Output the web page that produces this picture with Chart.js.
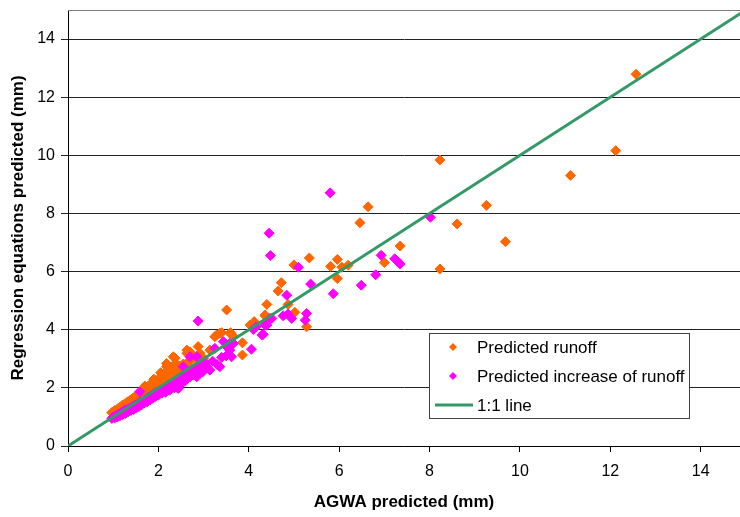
<!DOCTYPE html>
<html><head><meta charset="utf-8">
<script src="https://cdn.jsdelivr.net/npm/chart.js@4.4.0/dist/chart.umd.min.js"></script>
<style>html,body{margin:0;padding:0;background:#fff;overflow:hidden}#wrap{width:740px;height:517px;position:relative}</style>
</head><body><div id="wrap"><canvas id="c" width="740" height="517"></canvas></div>
<script>
const seriesNames = ['Predicted runoff', 'Predicted increase of runoff', '1:1 line'];
const xAxisTitle = 'AGWA predicted (mm)';
const yAxisTitle = 'Regression equations predicted (mm)';
const xTicks = [0, 2, 4, 6, 8, 10, 12, 14];
const yTicks = [0, 2, 4, 6, 8, 10, 12, 14];
const xMax = 14.87;
const yMax = 15;

const runoffPoints = [
  [12.57,12.79],[12.12,10.16],[11.12,9.31],[8.23,9.84],[9.26,8.28],[8.61,7.64],[9.68,7.03],[8.23,6.09],
  [7.35,6.88],[7.00,6.31],[6.64,8.23],[6.46,7.68],[5.34,6.47],[5.00,6.23],[5.96,6.42],[5.81,6.18],
  [6.06,6.15],[6.20,6.22],[5.96,5.76],[4.72,5.62],[4.65,5.33],[4.87,4.87],[4.40,4.87],[4.36,4.48],
  [5.02,4.60],[5.28,4.10],[4.03,4.16],[4.12,4.28],[4.14,4.22],[3.86,3.55],[3.86,3.13],[3.51,4.68],
  [3.58,3.88],[3.36,3.88],[3.25,3.76],[3.29,3.82],[3.40,3.90],[3.60,3.90],[3.66,3.78],[2.92,3.19],
  [3.14,3.30],[2.70,3.24],[2.63,3.30],[2.88,3.42],[2.37,3.02],[2.33,2.56],[2.18,2.73],[4.36,4.51],
  [2.18,2.84],[2.33,3.07],[2.63,3.19],[2.40,2.44],[2.40,2.02],[3.00,3.02],
  [0.97,1.15],[1.00,1.12],[1.03,1.22],[1.06,1.18],[1.10,1.28],[1.12,1.22],[1.15,1.33],[1.18,1.30],
  [1.20,1.40],[1.23,1.36],[1.26,1.45],[1.28,1.40],[1.32,1.52],[1.35,1.48],[1.38,1.58],[1.40,1.52],
  [1.43,1.64],[1.46,1.60],[1.50,1.72],[1.52,1.66],[1.55,1.80],[1.58,1.74],[1.60,1.86],[1.63,1.80],
  [1.66,1.92],[1.68,1.85],[1.71,1.98],[1.74,1.92],[1.77,2.05],[1.80,1.98],[1.82,2.12],[1.85,2.05],
  [1.88,2.18],[1.91,2.10],[1.94,2.25],[1.97,2.18],[2.00,2.30],[2.03,2.22],[2.06,2.38],[2.09,2.30],
  [2.12,2.45],[2.15,2.36],[2.18,2.55],[2.21,2.42],[2.25,2.60],[2.28,2.50],[2.32,2.70],[2.35,2.58],
  [2.38,2.85],[2.42,2.62],[2.46,2.75],[2.50,2.68],[2.55,2.82],[2.60,2.75],[2.66,2.90],[2.72,2.95],
  [2.80,3.05],[1.70,2.06],[1.90,2.30],[2.05,2.52]
];

const increasePoints = [
  [5.80,8.71],[4.45,7.32],[4.48,6.55],[5.10,6.15],[8.02,7.87],[6.93,6.56],[7.23,6.44],[7.29,6.36],
  [7.35,6.26],[6.81,5.89],[6.49,5.53],[5.87,5.24],[5.37,5.57],[4.84,5.19],[4.76,4.48],[4.87,4.54],
  [4.95,4.39],[5.28,4.56],[5.25,4.33],[4.51,4.39],[4.10,4.01],[4.16,4.10],[4.32,3.84],[4.40,4.16],
  [4.06,3.33],[4.47,4.39],[4.36,4.16],[4.29,3.82],[2.88,4.30],
  [0.97,0.95],[1.00,1.00],[1.03,0.96],[1.06,1.05],[1.09,1.00],[1.12,1.10],[1.15,1.04],[1.18,1.15],
  [1.21,1.08],[1.24,1.20],[1.27,1.12],[1.30,1.25],[1.33,1.17],[1.36,1.30],[1.39,1.22],[1.42,1.35],
  [1.45,1.26],[1.48,1.40],[1.51,1.31],[1.54,1.45],[1.57,1.36],[1.60,1.52],[1.63,1.42],[1.66,1.56],
  [1.69,1.48],[1.72,1.62],[1.75,1.52],[1.78,1.68],[1.81,1.58],[1.84,1.74],[1.87,1.64],[1.90,1.80],
  [1.93,1.70],[1.96,1.86],[2.00,1.75],[2.04,1.92],[2.08,1.82],[2.12,1.98],[2.16,1.85],[2.20,2.05],
  [2.25,1.92],[2.30,2.12],[2.35,2.00],[2.40,2.20],[2.44,1.98],[2.48,2.28],[2.52,2.15],[2.56,2.40],
  [2.60,2.25],[2.65,2.52],[2.70,2.38],[2.74,2.62],[2.77,2.44],[2.82,2.70],[2.85,2.38],[2.90,2.78],
  [2.92,2.61],[2.98,2.55],[3.04,2.85],[3.07,2.73],[3.14,2.61],[3.20,2.92],[3.25,3.36],[3.30,2.80],
  [3.36,2.73],[3.40,3.05],[3.44,3.59],[3.50,3.10],[3.51,3.42],[3.58,3.30],[3.58,3.53],[3.62,3.07],
  [3.66,3.53],[2.55,2.73],[2.70,3.07],[2.85,3.07],[1.59,1.87],[1.26,1.24],[2.48,2.21]
];

const linePoints = [[0,0],[15,15]];

const colors = ['#FF6600', '#FF00FF', '#339966'];
const FONT = "'Liberation Sans', Arial, sans-serif";

const toXY = a => a.map(p => ({x: p[0], y: p[1]}));

const legendPlugin = {
  id: 'insideLegend',
  afterDraw(chart) {
    const ctx = chart.ctx;
    const ca = chart.chartArea;
    ctx.save();
    ctx.strokeStyle = '#808080';
    ctx.lineWidth = 1;
    ctx.beginPath();
    ctx.moveTo(ca.left, Math.round(ca.top) + 0.5);
    ctx.lineTo(ca.right, Math.round(ca.top) + 0.5);
    ctx.stroke();
    const bx = 429.5, by = 333.5, bw = 260, bh = 85;
    ctx.fillStyle = '#fff';
    ctx.fillRect(bx, by, bw, bh);
    ctx.strokeStyle = '#404040';
    ctx.strokeRect(bx, by, bw, bh);
    const rows = [347, 376, 405];
    ctx.font = '17px ' + FONT;
    ctx.textBaseline = 'middle';
    ctx.textAlign = 'left';
    for (let i = 0; i < 3; i++) {
      const y = rows[i];
      if (i < 2) {
        ctx.fillStyle = colors[i];
        ctx.beginPath();
        const r = 4;
        ctx.moveTo(453, y - r); ctx.lineTo(453 + r, y); ctx.lineTo(453, y + r); ctx.lineTo(453 - r, y);
        ctx.closePath(); ctx.fill();
      } else {
        ctx.strokeStyle = colors[2];
        ctx.lineWidth = 3;
        ctx.beginPath(); ctx.moveTo(435, y); ctx.lineTo(473, y); ctx.stroke();
      }
      ctx.fillStyle = '#000';
      ctx.fillText(seriesNames[i], 477, y + 1);
    }
    ctx.restore();
  }
};

new Chart(document.getElementById('c'), {
  type: 'scatter',
  data: {
    datasets: [
      {label: seriesNames[2], type: 'line', data: toXY(linePoints), borderColor: colors[2], borderWidth: 3,
       pointRadius: 0, fill: false, order: 0},
      {label: seriesNames[1], data: toXY(increasePoints), pointStyle: 'rectRot', pointRadius: 5,
       backgroundColor: colors[1], borderColor: colors[1], borderWidth: 1, order: 1},
      {label: seriesNames[0], data: toXY(runoffPoints), pointStyle: 'rectRot', pointRadius: 5,
       backgroundColor: colors[0], borderColor: colors[0], borderWidth: 1, order: 2}
    ]
  },
  options: {
    responsive: false,
    animation: false,
    devicePixelRatio: 1,
    layout: {autoPadding: false, padding: {top: 10, right: 0, left: 0, bottom: 0}},
    plugins: {legend: {display: false}, tooltip: {enabled: false}},
    scales: {
      x: {
        type: 'linear', min: 0, max: xMax,
        afterBuildTicks: s => { s.ticks = xTicks.map(v => ({value: v})); },
        afterFit: s => { s.height = 71; s.paddingLeft = 0; s.paddingRight = 0; },
        grid: {drawOnChartArea: false, drawTicks: true, tickLength: 6, color: '#000'},
        border: {display: true, color: '#000', width: 1},
        ticks: {font: {family: FONT, size: 16}, color: '#000', padding: 10, maxRotation: 0, autoSkip: false},
        title: {display: true, text: xAxisTitle, color: '#000', font: {family: FONT, size: 17, weight: 'bold'},
                padding: {top: 0, bottom: 4}}
      },
      y: {
        type: 'linear', min: 0, max: yMax,
        afterBuildTicks: s => { s.ticks = yTicks.map(v => ({value: v})); },
        afterFit: s => { s.width = 68; s.paddingTop = 0; s.paddingBottom = 0; },
        grid: {drawOnChartArea: true, drawTicks: true, tickLength: 7, color: '#222'},
        border: {display: true, color: '#000', width: 1},
        ticks: {font: {family: FONT, size: 16}, color: '#000', padding: 6},
        title: {display: true, text: yAxisTitle, color: '#000', font: {family: FONT, size: 17, weight: 'bold'},
                padding: {top: 8, bottom: 0}}
      }
    }
  },
  plugins: [legendPlugin]
});
</script>
</body></html>
